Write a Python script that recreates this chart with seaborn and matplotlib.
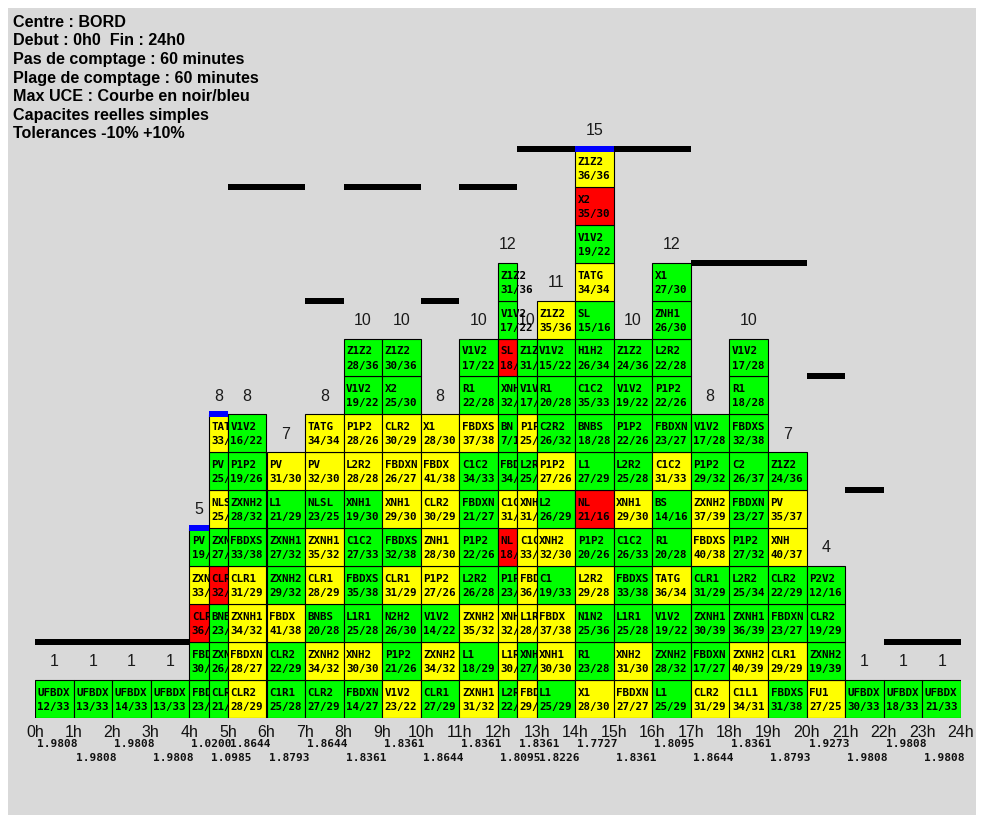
import matplotlib
matplotlib.use("Agg")
import matplotlib.pyplot as plt
from matplotlib.patches import Rectangle
import seaborn as sns

# --- Header lines ---
header = [
    "Centre : BORD",
    "Debut : 0h0  Fin : 24h0",
    "Pas de comptage : 60 minutes",
    "Plage de comptage : 60 minutes",
    "Max UCE : Courbe en noir/bleu",
    "Capacites reelles simples",
    "Tolerances -10% +10%",
]

# --- Time columns (hours) ---
col_edges = [0, 1, 2, 3, 4, 4.5, 5, 6, 7, 8, 9, 10, 11, 12, 12.5, 13,
             14, 15, 16, 17, 18, 19, 20, 21, 22, 23, 24]
hour_labels = [f"{h}h" for h in range(25)]

# --- Sectors stacked per column, bottom to top ---
sectors = [
    ["UFBDX"],
    ["UFBDX"],
    ["UFBDX"],
    ["UFBDX"],
    ["FBDXS", "FBDXN", "CLR2", "ZXNH1", "PV"],
    ["CLR1", "ZXNH2", "BNBS", "CLR2", "ZXNH1", "NLSL", "PV", "TATG"],
    ["CLR2", "FBDXN", "ZXNH1", "CLR1", "FBDXS", "ZXNH2", "P1P2", "V1V2"],
    ["C1R1", "CLR2", "FBDX", "ZXNH2", "ZXNH1", "L1", "PV"],
    ["CLR2", "ZXNH2", "BNBS", "CLR1", "ZXNH1", "NLSL", "PV", "TATG"],
    ["FBDXN", "XNH2", "L1R1", "FBDXS", "C1C2", "XNH1", "L2R2", "P1P2", "V1V2", "Z1Z2"],
    ["V1V2", "P1P2", "N2H2", "CLR1", "FBDXS", "XNH1", "FBDXN", "CLR2", "X2", "Z1Z2"],
    ["CLR1", "ZXNH2", "V1V2", "P1P2", "ZNH1", "CLR2", "FBDX", "X1"],
    ["ZXNH1", "L1", "ZXNH2", "L2R2", "P1P2", "FBDXN", "C1C2", "FBDXS", "R1", "V1V2"],
    ["L2R2", "L1R1", "XNH2", "P1P2", "NL", "C1C2", "FBDX", "BN", "XNH1", "SL", "V1V2", "Z1Z2"],
    ["FBDXN", "XNH1", "L1R1", "FBDXS", "C1C2", "XNH2", "L2R2", "P1P2", "V1V2", "Z1Z2"],
    ["L1", "XNH1", "FBDX", "C1", "XNH2", "L2", "P1P2", "C2R2", "R1", "V1V2", "Z1Z2"],
    ["X1", "R1", "N1N2", "L2R2", "P1P2", "NL", "L1", "BNBS", "C1C2", "H1H2", "SL",
     "TATG", "V1V2", "X2", "Z1Z2"],
    ["FBDXN", "XNH2", "L1R1", "FBDXS", "C1C2", "XNH1", "L2R2", "P1P2", "V1V2", "Z1Z2"],
    ["L1", "ZXNH2", "V1V2", "TATG", "R1", "BS", "C1C2", "FBDXN", "P1P2", "L2R2", "ZNH1", "X1"],
    ["CLR2", "FBDXN", "ZXNH1", "CLR1", "FBDXS", "ZXNH2", "P1P2", "V1V2"],
    ["C1L1", "ZXNH2", "ZXNH1", "L2R2", "P1P2", "FBDXN", "C2", "FBDXS", "R1", "V1V2"],
    ["FBDXS", "CLR1", "FBDXN", "CLR2", "XNH", "PV", "Z1Z2"],
    ["FU1", "ZXNH2", "CLR2", "P2V2"],
    ["UFBDX"],
    ["UFBDX"],
    ["UFBDX"],
]

# --- Load / capacity per cell ---
loads = [
    ["12/33"],
    ["13/33"],
    ["14/33"],
    ["13/33"],
    ["23/38", "30/27", "36/29", "33/32", "19/30"],
    ["21/29", "26/32", "23/28", "32/29", "27/32", "25/25", "25/30", "33/34"],
    ["28/29", "28/27", "34/32", "31/29", "33/38", "28/32", "19/26", "16/22"],
    ["25/28", "22/29", "41/38", "29/32", "27/32", "21/29", "31/30"],
    ["27/29", "34/32", "20/28", "28/29", "35/32", "23/25", "32/30", "34/34"],
    ["14/27", "30/30", "25/28", "35/38", "27/33", "19/30", "28/28", "28/26", "19/22", "28/36"],
    ["23/22", "21/26", "26/30", "31/29", "32/38", "29/30", "26/27", "30/29", "25/30", "30/36"],
    ["27/29", "34/32", "14/22", "27/26", "28/30", "30/29", "41/38", "28/30"],
    ["31/32", "18/29", "35/32", "26/28", "22/26", "21/27", "34/33", "37/38", "22/28", "17/22"],
    ["22/28", "30/28", "32/30", "23/26", "18/16", "31/33", "34/38", "7/16", "32/30", "18/16",
     "17/22", "31/36"],
    ["29/27", "27/30", "28/28", "36/38", "33/33", "31/30", "25/28", "25/26", "17/22", "31/36"],
    ["25/29", "30/30", "37/38", "19/33", "32/30", "26/29", "27/26", "26/32", "20/28", "15/22",
     "35/36"],
    ["28/30", "23/28", "25/36", "29/28", "20/26", "21/16", "27/29", "18/28", "35/33", "26/34",
     "15/16", "34/34", "19/22", "35/30", "36/36"],
    ["27/27", "31/30", "25/28", "33/38", "26/33", "29/30", "25/28", "22/26", "19/22", "24/36"],
    ["25/29", "28/32", "19/22", "36/34", "20/28", "14/16", "31/33", "23/27", "22/26", "22/28",
     "26/30", "27/30"],
    ["31/29", "17/27", "30/39", "31/29", "40/38", "37/39", "29/32", "17/28"],
    ["34/31", "40/39", "36/39", "25/34", "27/32", "23/27", "26/37", "32/38", "18/28", "17/28"],
    ["31/38", "29/29", "23/27", "22/29", "40/37", "35/37", "24/36"],
    ["27/25", "19/39", "19/29", "12/16"],
    ["30/33"],
    ["18/33"],
    ["21/33"],
]

# --- Cell status: g = normal, y = within tolerance, r = overload ---
status = [
    "g", "g", "g", "g",
    "ggryg",
    "gggrgygy",
    "yyyygggg",
    "ggygggy",
    "gygyygyy",
    "gyggggyygg",
    "yggygyyygg",
    "gygyyyyy",
    "ygyggggygg",
    "gyygrygggrgg",
    "ygyyyygygg",
    "gyygygygggy",
    "yggygrgggggygry",
    "yygggygggg",
    "gggyggyggggg",
    "ygggyygg",
    "yygggggggg",
    "gyggyyg",
    "yggg",
    "g", "g", "g",
]

# --- Max UCE per column (in sector units) ---
max_uce = [2, 2, 2, 2, 5, 8, 14, 14, 11, 14, 14, 11, 14, 14,
           15, 15, 15, 15, 15, 12, 12, 12, 9, 6, 2, 2]

# --- Ratio printed under each column ---
ratios = ["1.9808", "1.9808", "1.9808", "1.9808", "1.0200", "1.0985", "1.8644",
          "1.8793", "1.8644", "1.8361", "1.8361", "1.8644", "1.8361", "1.8095",
          "1.8361", "1.8226", "1.7727", "1.8361", "1.8095", "1.8644", "1.8361",
          "1.8793", "1.9273", "1.9808", "1.9808", "1.9808"]

palette = {"g": "#00ff00", "y": "#ffff00", "r": "#ff0000"}

sns.set_theme(style="white")
plt.rcParams["font.family"] = ["Liberation Sans", "DejaVu Sans"]

W, H = 982, 818
fig = plt.figure(figsize=(W / 100, H / 100), dpi=100, facecolor="white")
fig.add_artist(Rectangle((8 / W, 3 / H), (976 - 8) / W, (815 - 8) / H,
                         transform=fig.transFigure, facecolor="#d9d9d9",
                         edgecolor="none", zorder=-10))

x0, x1 = 35, 961
y_base, unit = 717.5, 37.9
n_levels = 16
ax = fig.add_axes([x0 / W, (H - y_base) / H, (x1 - x0) / W, n_levels * unit / H])
ax.set_facecolor("none")
ax.set_xlim(0, 24)
ax.set_ylim(0, n_levels)
for s in ax.spines.values():
    s.set_visible(False)
ax.set_yticks([])
ax.set_xticks(range(25))
ax.set_xticklabels(hour_labels, fontsize=11.5, color="#111111")
ax.tick_params(axis="x", length=0, pad=5.5)
ax.grid(False)

px_per_hour = (x1 - x0) / 24
pad = 2.5 / px_per_hour
mono = "DejaVu Sans Mono"

counts = [len(c) for c in sectors]

for i, (names, ld, st) in enumerate(zip(sectors, loads, status)):
    left, right = col_edges[i], col_edges[i + 1]
    w = right - left
    n = counts[i]
    z = 10 + 2 * i
    ax.bar([left] * n, [1] * n, width=w, bottom=list(range(n)), align="edge",
           color=[palette[c] for c in st], edgecolor="black", linewidth=0.8, zorder=z)
    for r, (nm, l) in enumerate(zip(names, ld)):
        ax.text(left + pad, r + 0.578, nm, family=mono, fontsize=7.8, fontweight="bold",
                color="black", va="baseline", ha="left", zorder=z + 1)
        ax.text(left + pad, r + 0.208, l, family=mono, fontsize=7.8, fontweight="bold",
                color="black", va="baseline", ha="left", zorder=z + 1)
    # count above the stack
    ax.text((left + right) / 2, n + 0.36, str(n), fontsize=11.5, color="#1a1a1a",
            ha="center", va="baseline", zorder=5)
    # ratio under axis, two alternating rows
    ax.text(left + 2 / px_per_hour, -0.786 if i % 2 == 0 else -1.14, ratios[i],
            family=mono, fontsize=8, fontweight="bold", color="#111111",
            va="baseline", ha="left", clip_on=False)

# --- Max UCE segments: merge neighbouring columns with the same level/colour ---
seg_start = 0
for i in range(1, len(max_uce) + 1):
    same = (i < len(max_uce) and max_uce[i] == max_uce[seg_start]
            and (max_uce[i] == counts[i]) == (max_uce[seg_start] == counts[seg_start]))
    if same:
        continue
    lvl = max_uce[seg_start]
    reached = lvl == counts[seg_start]
    ax.bar(col_edges[seg_start], 0.16, width=col_edges[i] - col_edges[seg_start],
           bottom=lvl - 0.08, align="edge", color="#0000ff" if reached else "black",
           linewidth=0, zorder=200)
    seg_start = i

for k, line in enumerate(header):
    fig.text(13 / W, 1 - (26.7 + 18.6 * k) / H, line, fontsize=11.6,
             fontweight="bold", color="black", va="baseline", ha="left")

fig.savefig("out.png", dpi=100)
